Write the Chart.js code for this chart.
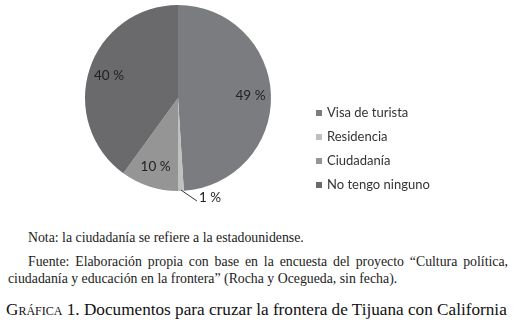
<!DOCTYPE html>
<html lang="es">
<head>
  <meta charset="UTF-8">
  <title>Gráfica 1</title>
  <script src="https://cdn.jsdelivr.net/npm/chart.js"></script>
  <style>
    body { margin: 0; background: #fff; width: 518px; height: 325px; overflow: hidden; position: relative; }
    #wrap { position: absolute; left: 0; top: 0; width: 518px; height: 215px; }
    .txt { position: absolute; font-family: "Liberation Serif", serif; color: #222; white-space: nowrap; }
    #nota { left: 28px; top: 230px; font-size: 13.8px; }
    #fuente { left: 8px; top: 253px; width: 500px; font-size: 13.8px; line-height: 17px; white-space: normal; text-align: justify; text-indent: 20px; text-align-last: left; }
    #titulo { left: 6px; top: 300px; font-size: 17.2px; color: #111; }
    .sc { font-variant: small-caps; }
  </style>
</head>
<body>
  <div id="wrap"><canvas id="pie" width="518" height="215"></canvas></div>
  <div class="txt" id="nota">Nota: la ciudadanía se refiere a la estadounidense.</div>
  <div class="txt" id="fuente">Fuente: Elaboración propia con base en la encuesta del proyecto “Cultura política, ciudadanía y educación en la frontera” (Rocha y Ocegueda, sin fecha).</div>
  <div class="txt" id="titulo"><span class="sc">Gráfica</span> 1. Documentos para cruzar la frontera de Tijuana con California</div>

  <script>
    const categories = ["Visa de turista", "Residencia", "Ciudadanía", "No tengo ninguno"];
    const percents = [49, 1, 10, 40];
    const sliceColors = ["#7b7c7f", "#c0c0c0", "#959595", "#6a6a6c"];

    // etiquetas de porcentaje (la pequeña va fuera con línea guía)
    const pctLabels = {
      id: "pctLabels",
      afterDatasetsDraw(chart) {
        const ctx = chart.ctx;
        const arcs = chart.getDatasetMeta(0).data;
        ctx.save();
        ctx.font = "13.5px Lato, sans-serif";
        ctx.textBaseline = "middle";
        arcs.forEach((arc, i) => {
          const mid = (arc.startAngle + arc.endAngle) / 2;
          const R = arc.outerRadius;
          const text = percents[i] + " %";
          if (percents[i] < 3) {
            const x1 = arc.x + Math.cos(mid) * (R - 1);
            const y1 = arc.y + Math.sin(mid) * (R - 1);
            const x2 = x1 + 16, y2 = y1 + 11;
            ctx.strokeStyle = "#333";
            ctx.lineWidth = 1;
            ctx.beginPath();
            ctx.moveTo(x1, y1);
            ctx.lineTo(x2, y2);
            ctx.stroke();
            ctx.fillStyle = "#222";
            ctx.textAlign = "left";
            ctx.fillText(text, x2 + 2, y2 - 3);
          } else {
            ctx.fillStyle = "#222";
            ctx.textAlign = "center";
            ctx.fillText(text, arc.x + Math.cos(mid) * R * 0.78, arc.y + Math.sin(mid) * R * 0.78);
          }
        });
        ctx.restore();
      }
    };

    // leyenda a la derecha, dibujada a mano para fijar su sitio
    const sideLegend = {
      id: "sideLegend",
      afterDraw(chart) {
        const ctx = chart.ctx;
        ctx.save();
        ctx.font = "13px Lato, sans-serif";
        ctx.textBaseline = "middle";
        ctx.textAlign = "left";
        categories.forEach((name, i) => {
          const y = 113 + i * 24;
          ctx.fillStyle = sliceColors[i];
          ctx.fillRect(316, y - 3, 6, 6);
          ctx.fillStyle = "#333";
          ctx.fillText(name, 327, y);
        });
        ctx.restore();
      }
    };

    new Chart(document.getElementById("pie"), {
      type: "pie",
      data: {
        labels: categories,
        datasets: [{
          data: percents,
          backgroundColor: sliceColors,
          borderWidth: 0
        }]
      },
      options: {
        responsive: false,
        animation: false,
        layout: { padding: { top: 5, bottom: 24, left: 85, right: 247 } },
        plugins: {
          tooltip: { enabled: false },
          legend: { display: false }
        }
      },
      plugins: [pctLabels, sideLegend]
    });
  </script>
</body>
</html>
